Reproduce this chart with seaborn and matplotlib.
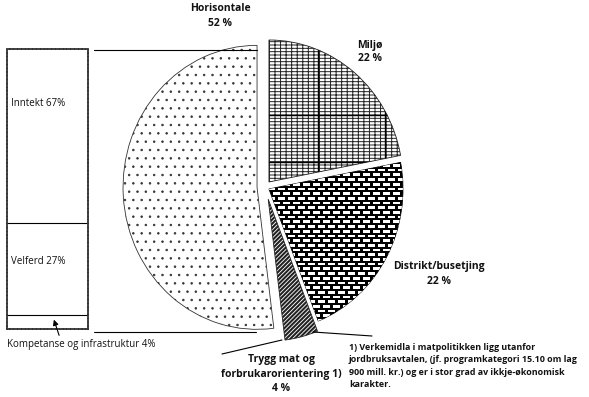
import numpy as np
import matplotlib
matplotlib.use("Agg")
import matplotlib.pyplot as plt
import seaborn as sns
from matplotlib.patches import Rectangle
from matplotlib.collections import PatchCollection

# ---------------- data ----------------
pie_labels = ["Miljø", "Distrikt/busetjing", "Trygg mat og\nforbrukarorientering 1)", "Horisontale"]
pie_values = [22, 22, 4, 52]
pie_explode = [0.044, 0.032, 0.09, 0.061]
pie_hatches = ["+++--", None, "////////", ".."]

bar_labels = ["Inntekt 67%", "Velferd 27%", "Kompetanse og infrastruktur 4%"]
bar_values = [62, 33, 5]   # segment heights as drawn (top to bottom)

footnote = ("1) Verkemidla i matpolitikken ligg utanfor\n"
            "jordbruksavtalen, (jf. programkategori 15.10 om lag\n"
            "900 mill. kr.) og er i stor grad av ikkje-økonomisk\n"
            "karakter.")

# ---------------- style ----------------
sns.set_theme(style="white")
plt.rcParams['font.family'] = ['Open Sans', 'DejaVu Sans']
plt.rcParams['hatch.linewidth'] = 0.8

W, H = 589, 397
fig = plt.figure(figsize=(W / 100, H / 100), dpi=100)
fig.patch.set_facecolor("white")

# ---------------- pie ----------------
cx, cy, rx, ry = 265.2, 186.8, 134.0, 142.0
axp = fig.add_axes([0, 0, 1, 1])
wedges, _ = axp.pie(pie_values, explode=pie_explode, startangle=90,
                    counterclock=False, radius=1,
                    wedgeprops=dict(edgecolor="#222222", linewidth=0.6,
                                    facecolor="white"))
axp.set_xlim(-cx / rx, (W - cx) / rx)
axp.set_ylim(-(H - cy) / ry, cy / ry)
axp.set_aspect("auto")
axp.axis("off")

for w, h in zip(wedges, pie_hatches):
    if h:
        w.set_hatch(h)
wedges[3].set_edgecolor("#333333")
if hasattr(wedges[2], "set_hatch_linewidth"):
    wedges[2].set_hatch_linewidth(1.5)
    wedges[0].set_hatch_linewidth(0.7)
    wedges[3].set_hatch_linewidth(0.55)

# brick texture for Distrikt/busetjing
wedges[1].set_facecolor("black")
wedges[1].set_edgecolor("black")
bricks = []
for i, yp in enumerate(np.arange(150, 340, 4.7)):
    off = 0 if i % 2 == 0 else 5
    for xp in np.arange(258 + off, 415, 10):
        bricks.append(Rectangle(((xp - cx) / rx, (cy - yp - 2.7) / ry),
                                7.3 / rx, 2.7 / ry))
pc = PatchCollection(bricks, facecolor="white", edgecolor="none")
axp.add_collection(pc)
pc.set_clip_path(wedges[1])

# heavier grid lines inside Miljø
for xp in (318, 385):
    ln, = axp.plot([(xp - cx) / rx] * 2, [-1, 2], color="black", lw=1.0)
    ln.set_clip_path(wedges[0])
for yp in (115, 162):
    ln, = axp.plot([0, 2], [(cy - yp) / ry] * 2, color="black", lw=1.0)
    ln.set_clip_path(wedges[0])

# ---------------- stacked bar ----------------
axb = fig.add_axes([7 / W, (H - 329) / H, 81 / W, 280 / H])
bottom = 0
bounds = []
for v in bar_values[::-1]:
    sns.barplot(x=[0], y=[v], bottom=bottom, width=1, color="white",
                linewidth=0, errorbar=None, ax=axb)
    bottom += v
    bounds.append(bottom)
for b in bounds[:-1]:
    axb.axhline(b, color="black", lw=0.8)
axb.set_xlim(-0.5, 0.5)
axb.set_ylim(0, bottom)
axb.set_xticks([])
axb.set_yticks([])
axb.set_xlabel("")
axb.set_ylabel("")
axb.set_facecolor("white")
for s in axb.spines.values():
    s.set_visible(True)
    s.set_linestyle((0, (1.2, 0.9)))
    s.set_linewidth(1.3)
    s.set_color("#333333")

# ---------------- overlay: text and connectors ----------------
axo = fig.add_axes([0, 0, 1, 1], facecolor="none")
axo.set_xlim(0, W)
axo.set_ylim(H, 0)
axo.axis("off")

bold = dict(fontweight="bold", fontsize=7.5, ha="center", va="center",
            color="#111111")
axo.text(220, 16, f"{pie_labels[3]}\n{pie_values[3]} %", linespacing=1.45, **bold)
axo.text(370, 52, f"{pie_labels[0]}\n{pie_values[0]} %", linespacing=1.35, **bold)
axo.text(439, 274, f"{pie_labels[1]}\n{pie_values[1]} %", linespacing=1.45, **bold)
axo.text(281, 374, f"{pie_labels[2]}\n{pie_values[2]} %", linespacing=1.45, **bold)

reg = dict(fontsize=7, color="#111111", va="center", ha="left")
axo.text(11, 103, bar_labels[0], **reg)
axo.text(11, 261, bar_labels[1], **reg)
axo.text(7, 344, bar_labels[2], **reg)

axo.text(349, 366, footnote, fontsize=6.4, fontweight="bold", ha="left",
         va="center", linespacing=1.45, color="#111111")

lk = dict(color="black", lw=0.8)
axo.plot([94, 257], [50, 50], **lk)
axo.plot([94, 256], [332, 332], **lk)
axo.plot([222, 282], [354, 340], **lk)
axo.plot([313, 372], [332, 336], **lk)
axo.annotate("", xy=(53, 317), xytext=(60, 338),
             arrowprops=dict(arrowstyle="-|>", color="black", lw=0.8,
                             mutation_scale=8))

fig.savefig("out.png", dpi=100, facecolor="white")
